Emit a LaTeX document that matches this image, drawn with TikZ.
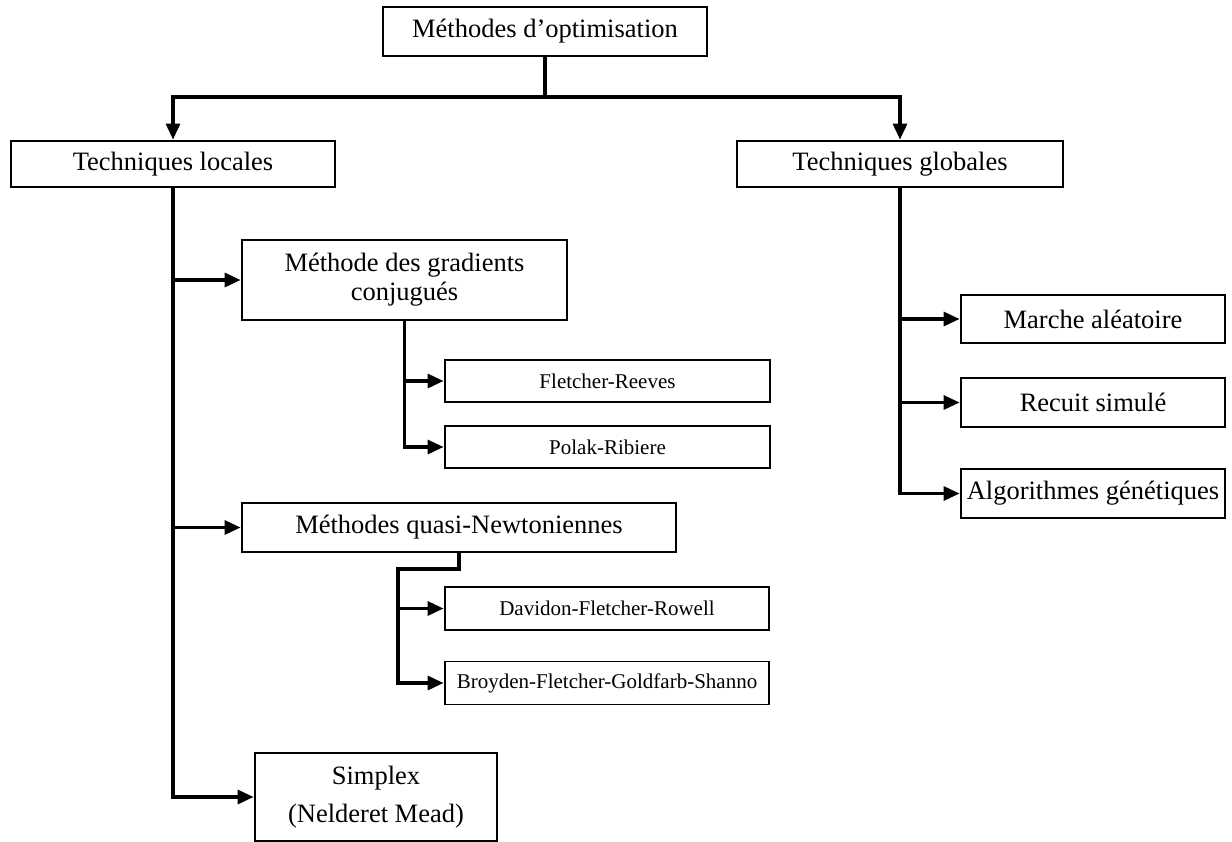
\documentclass[tikz,border=0pt]{standalone}
\usepackage{fontspec}
\setmainfont{Liberation Serif}
\usetikzlibrary{arrows.meta}
\begin{document}
\begin{tikzpicture}[x=1pt,y=-1pt,
  box/.style={draw=black, line width=1.6pt, inner sep=0pt, align=center,
    font=\fontsize{26.5}{29}\selectfont},
  smallbox/.style={box, minimum width=325pt, minimum height=42pt,
    font=\fontsize{21}{24}\selectfont},
  conn/.style={line width=3.2pt},
  arr/.style={conn, -{Triangle[length=16pt,width=14pt]}, shorten >=0.6pt}]
\useasboundingbox (0,0) rectangle (1232,841);

% root and the two families
\node[box, minimum width=324pt, minimum height=49pt] (root) at (545,31.5) {Méthodes d’optimisation};
\node[box, minimum width=324pt, minimum height=46pt] (loc) at (173,164) {Techniques locales};
\node[box, minimum width=326pt, minimum height=46pt] (glob) at (900,164) {Techniques globales};

% local techniques
\node[box, minimum width=325pt, minimum height=80pt] (grad) at (404.5,280) {\raisebox{-4pt}{\parbox{300pt}{\centering Méthode des gradients\\conjugués}}};
\node[smallbox] (fr) at (607.5,381) {Fletcher-Reeves};
\node[smallbox] (pr) at (607.5,447) {Polak-Ribiere};
\node[box, minimum width=434pt, minimum height=49pt] (qn) at (459,527.5) {Méthodes quasi-Newtoniennes};
\node[smallbox, minimum width=324pt, minimum height=43pt] (dfr) at (607,608.5) {Davidon-Fletcher-Rowell};
\node[smallbox, minimum width=324pt, minimum height=43pt] (bfgs) at (607,683) {Broyden-Fletcher-Goldfarb-Shanno};
\node[box, minimum width=242pt, minimum height=88pt, font=\fontsize{26.5}{38}\selectfont] (simp) at (376,797) {\raisebox{-4pt}{\parbox{230pt}{\centering Simplex\\(Nelderet Mead)}}};

% global techniques
\node[box, minimum width=264pt, minimum height=48pt] (ma) at (1093,319) {Marche aléatoire};
\node[box, minimum width=264pt, minimum height=49pt] (rs) at (1093,402.5) {Recuit simulé};
\node[box, minimum width=264pt, minimum height=49pt] (ag) at (1093,493.5) {Algorithmes génétiques};

% root split
\coordinate (split) at (545,97);
\draw[conn] (root.south) -- (split);
\draw[arr] (split) -| (loc.north);
\draw[arr] (split) -| (glob.north);

% local trunk
\draw[arr] (loc.south) |- (simp.west);
\draw[arr] (loc.south |- grad.west) -- (grad.west);
\draw[arr] (loc.south |- qn.west) -- (qn.west);

% conjugate gradients
\draw[arr] (grad.south) |- (pr.west);
\draw[arr] (grad.south |- fr.west) -- (fr.west);

% quasi-Newton
\coordinate (qnbend) at (459,569);
\coordinate (qnleft) at (398,569);
\draw[arr] (qn.south) -- (qnbend) -- (qnleft) |- (bfgs.west);
\draw[arr] (qnleft |- dfr.west) -- (dfr.west);

% global trunk
\draw[arr] (glob.south) |- (ag.west);
\draw[arr] (glob.south |- ma.west) -- (ma.west);
\draw[arr] (glob.south |- rs.west) -- (rs.west);
\end{tikzpicture}
\end{document}
